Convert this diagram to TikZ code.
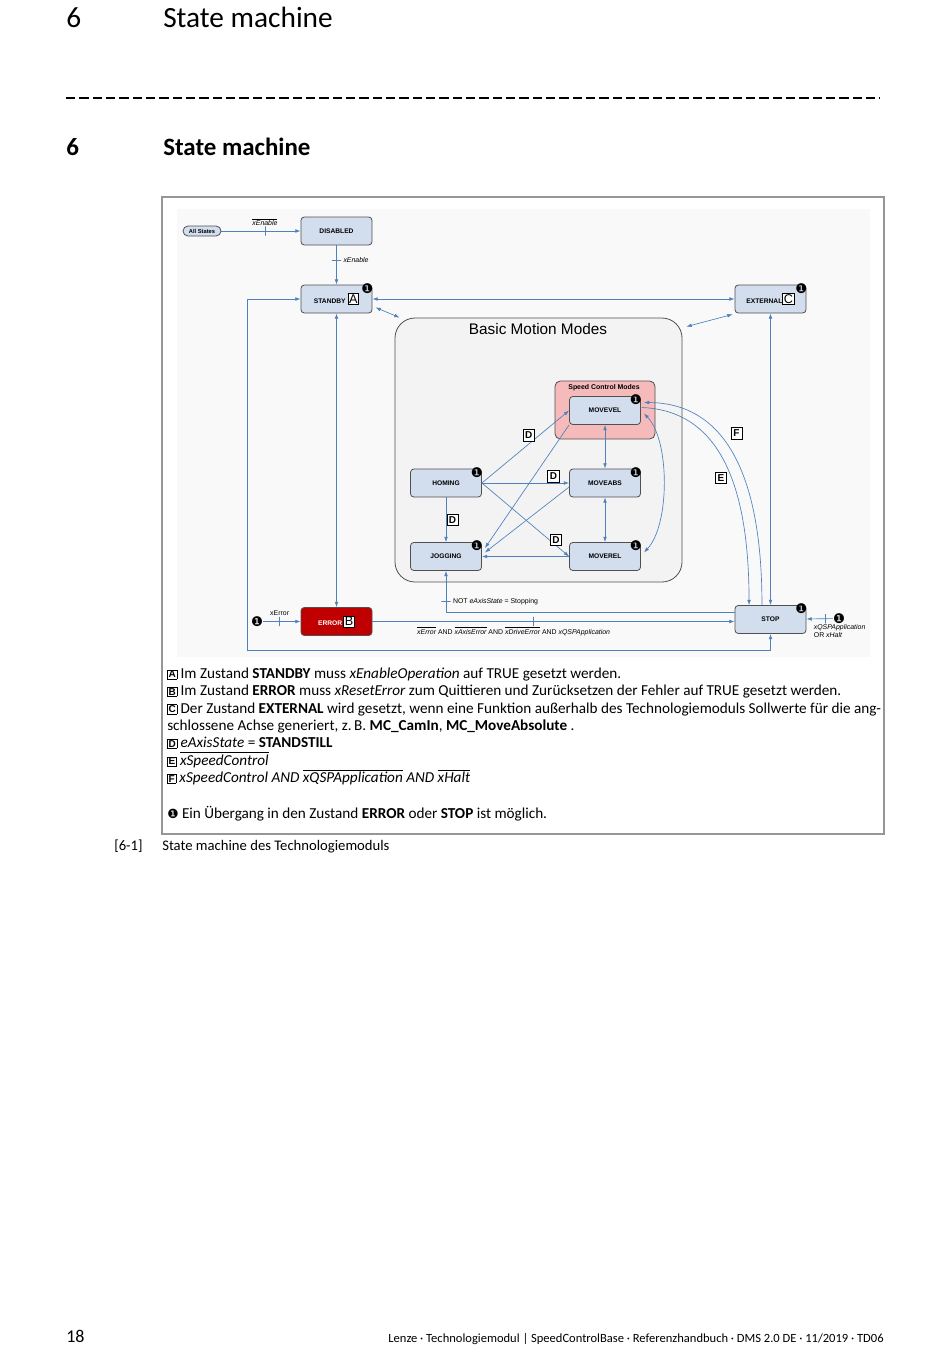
\documentclass[tikz,border=0pt]{standalone}
\usepackage{fontspec}
\setmainfont{Carlito}
\newfontfamily\diafont{Liberation Sans}
\newfontfamily\symfont{DejaVu Sans}
\usetikzlibrary{shapes.geometric, arrows, arrows.meta}

\definecolor{linec}{RGB}{79,129,189}
\definecolor{statefill}{RGB}{210,221,238}
\definecolor{stateedge}{RGB}{80,80,80}
\definecolor{pinkfill}{RGB}{247,186,186}
\definecolor{errfill}{RGB}{192,0,0}
\definecolor{groupfill}{RGB}{243,243,243}
\definecolor{diabg}{RGB}{249,249,250}
\definecolor{framec}{RGB}{150,150,150}

\newcommand{\ovl}[1]{\ensuremath{\overline{\mbox{#1}}}}
\newcommand{\lbox}[1]{{\setlength{\fboxsep}{0.6pt}\setlength{\fboxrule}{0.4pt}\raisebox{0.2pt}{\fbox{\diafont\fontsize{7.5}{8}\selectfont\bfseries #1}}}}
\newcommand{\keybox}[1]{{\setlength{\fboxsep}{0.7pt}\setlength{\fboxrule}{0.45pt}\fcolorbox{black}{white}{\textcolor{black}{\fontsize{9.5}{9.5}\selectfont\mdseries #1}}}}

\begin{document}
\begin{tikzpicture}
    [
        x=0.75pt, y=-0.75pt,
        >={Latex[length=4pt, width=2.8pt]},
        state/.style = {draw=stateedge, fill=statefill, rounded corners=2.5pt, minimum width=53.25pt, minimum height=21pt, inner sep=1pt, line width=0.6pt, font=\diafont\fontsize{5}{6}\selectfont\bfseries},
        group/.style = {draw=stateedge, fill=groupfill, rounded corners=15pt, line width=0.6pt},
        warn/.style = {inner sep=0pt, font=\symfont\fontsize{10}{10}\selectfont},
        conn/.style = {draw=linec, line width=0.5pt, ->},
        conn2/.style = {draw=linec, line width=0.5pt, <->},
        vtick/.style = {draw=linec, line width=0.5pt, minimum width=0pt, minimum height=7pt, inner sep=0pt},
        htick/.style = {draw=linec, line width=0.5pt, minimum width=7pt, minimum height=0pt, inner sep=0pt},
        cond/.style = {draw=black, fill=white, line width=0.4pt, inner sep=0pt, minimum size=8.5pt, font=\diafont\fontsize{7.5}{8}\selectfont\bfseries},
        lbl/.style = {inner sep=1pt, font=\diafont\fontsize{5.2}{6}\selectfont},
        doc/.style = {inner sep=0pt, anchor=base west, font=\fontsize{11.4}{13}\selectfont},
        head/.style = {inner sep=0pt, anchor=base west, font=\fontsize{22}{24}\selectfont},
    ]

    % page
    \fill[white] (0,0) rectangle (950,1370);
    \node[head] (h1num) at (66,28) {6};
    \node[head] (h1txt) at (163,28) {State machine};
    \draw[line width=1.1pt, dash pattern=on 7pt off 3pt] (66,98) -- (880,98);
    \node[head, font=\fontsize{18.7}{20}\selectfont\bfseries] (h2num) at (66,155) {6};
    \node[head, font=\fontsize{18.7}{20}\selectfont\bfseries] (h2txt) at (163,155) {State machine};

    \draw[framec, line width=0.8pt] (162,197) rectangle (884,834);
    \fill[diabg] (177,209) rectangle (870,657);

    % states
    \node[state, minimum width=28.5pt, minimum height=7.5pt, rounded corners=3.75pt, font=\diafont\fontsize{4.3}{5}\selectfont\bfseries] (allstates) at (202,231) {All States};
    \node[state] (disabled) at (336.5,231) {DISABLED};
    \node[state] (standby)  at (336.5,299) {STANDBY \keybox{A}};
    \node[state] (external) at (770.5,299) {EXTERNAL\keybox{C}};

    \node[group, minimum width=215.25pt, minimum height=198pt] (bmm) at (538.5,450) {};
    \node[font=\diafont\fontsize{11.5}{13}\selectfont] (bmmtitle) at (538,329) {Basic Motion Modes};
    \node[group, fill=pinkfill, rounded corners=4pt, minimum width=75pt, minimum height=43.5pt] (scm) at (605,410) {};
    \node[font=\diafont\fontsize{5.2}{6}\selectfont\bfseries] (scmtitle) at (604,388) {Speed Control Modes};

    \node[state] (movevel) at (605,410.5) {MOVEVEL};
    \node[state] (homing)  at (446,483)   {HOMING};
    \node[state] (moveabs) at (605,483)   {MOVEABS};
    \node[state] (jogging) at (446,556.5) {JOGGING};
    \node[state] (moverel) at (605,556.5) {MOVEREL};

    \node[state, fill=errfill, text=white] (error) at (336.5,621.5) {ERROR\,\keybox{B}};
    \node[state] (stop) at (770.5,619.5) {STOP};

    \foreach \s in {standby, external, movevel, homing, moveabs, jogging, moverel, stop}
        \node[warn] (\s w) at ([shift={(-5,4)}]\s.north east) {❶};
    \node[warn] (errsrc)  at (257,621.5) {❶};
    \node[warn] (stopsrc) at (839,618.5) {❶};
    \coordinate (loopcorner) at (247,650);

    % transitions
    \draw[conn] (allstates) -- (disabled) node[pos=0.55, vtick] (t1) {} node[pos=0.55, lbl, above=2.5pt] (l1) {\textit{\ovl{xEnable}}};
    \draw[conn] (disabled) -- (standby) node[pos=0.38, htick] (t2) {} node[pos=0.38, lbl, right=4pt] (l2) {\textit{xEnable}};
    \draw[conn2] (standby) -- (external);
    \draw[conn2] (standby) -- (error);
    \draw[conn2] (external) -- (stop);
    \draw[conn2] (standby.west) -| (loopcorner) -| (stop.south);
    \draw[conn2] ([shift={(3,-6)}]standby.south east) -- ([shift={(5,0)}]bmm.north west);
    \draw[conn2] ([shift={(4,9)}]bmm.north east) -- ([shift={(-2,1)}]external.south west);

    \draw[conn] (error) -- (error -| stop.west) node[pos=0.443, vtick] (t3) {} node[pos=0.39, lbl, below=2.5pt] (l3) {\textit{\ovl{xError}} AND \textit{\ovl{xAxisError}} AND \textit{\ovl{xDriveError}} AND \textit{xQSPApplication}};
    \draw[conn] ([yshift=5.6pt]stop.west) -| (jogging.south) node[pos=0.63, htick] (t4) {} node[pos=0.63, lbl, right=4pt] (l4) {NOT \textit{eAxisState} = Stopping};
    \draw[conn] (errsrc) -- (error) node[pos=0.44, vtick] (t5) {} node[pos=0.44, lbl, above=3pt] (l5) {xError};
    \draw[conn] (stopsrc) -- (stop) node[pos=0.3, vtick] (t6) {} node[pos=0.78, lbl, anchor=north west, align=left, yshift=-3pt] (l6) {\textit{xQSPApplication}\\OR \textit{xHalt}};

    \draw[conn2] (movevel) -- (moveabs);
    \draw[conn2] (moveabs) -- (moverel);
    \draw[conn] (homing) -- (jogging) node[midway, cond, right=0.5pt] (d1) {D};
    \draw[conn] (moverel) -- (jogging);
    \draw[conn] (homing.east) -- (movevel.west) node[pos=0.5, cond, xshift=2.5pt, yshift=8.5pt] (d2) {D};
    \draw[conn] (homing.east) -- (moveabs.west) node[pos=0.82, cond, above=0.5pt] (d3) {D};
    \draw[conn] (homing.east) -- (moverel.west) node[pos=0.82, cond, xshift=2pt, yshift=2.5pt] (d4) {D};
    \draw[conn] (movevel.south west) -- ([shift={(3,6)}]jogging.north east);
    \draw[conn] ([shift={(0,4)}]moveabs.west) -- ([shift={(3,-4)}]jogging.east);
    \draw[conn2] ([shift={(3,3)}]movevel.east) .. controls (670,440) and (670,525) .. ([shift={(3,-4)}]moverel.east);

    \draw[conn] ([shift={(1,-3)}]movevel.east) .. controls (705,410) and (749,460) .. ([xshift=-16.1pt]stop.north) node[pos=0.6, cond, xshift=-6.4pt, yshift=-3.3pt] (e1) {E};
    \draw[conn] ([xshift=-6.4pt]stop.north) .. controls (762,480) and (728,403) .. ([shift={(3,-8)}]movevel.east) node[pos=0.6, cond, xshift=11pt, yshift=3.5pt] (f1) {F};

    % legend
    \node[doc] (leg1) at (167,678) {\lbox{A} Im Zustand \textbf{STANDBY} muss \textit{xEnableOperation} auf TRUE gesetzt werden.};
    \node[doc] (leg2) at (167,695.5) {\lbox{B} Im Zustand \textbf{ERROR} muss \textit{xResetError} zum Quittieren und Zurücksetzen der Fehler auf TRUE gesetzt werden.};
    \node[doc] (leg3) at (167,713) {\lbox{C} Der Zustand \textbf{EXTERNAL} wird gesetzt, wenn eine Funktion außerhalb des Technologiemoduls Sollwerte für die ang-};
    \node[doc] (leg4) at (167,730) {schlossene Achse generiert, z.\,B. \textbf{MC\_CamIn}, \textbf{MC\_MoveAbsolute} .};
    \node[doc] (leg5) at (167,747.5) {\lbox{D} \textit{eAxisState} = \textbf{STANDSTILL}};
    \node[doc] (leg6) at (167,765) {\lbox{E} \textit{\ovl{xSpeedControl}}};
    \node[doc] (leg7) at (167,782.5) {\lbox{F} \textit{xSpeedControl AND \ovl{xQSPApplication} AND \ovl{xHalt}}};
    \node[doc] (leg8) at (167,818) {{\symfont\fontsize{9.5}{9}\selectfont ❶} Ein Übergang in den Zustand \textbf{ERROR} oder \textbf{STOP} ist möglich.};

    % caption and footer
    \node[doc, font=\fontsize{11}{13}\selectfont] (capnum) at (114,850) {[6-1]};
    \node[doc, font=\fontsize{11}{13}\selectfont] (captxt) at (162,850) {State machine des Technologiemoduls};
    \node[head, font=\fontsize{13.5}{14}\selectfont] (pagenum) at (66,1342) {18};
    \node[inner sep=0pt, anchor=base east, font=\fontsize{9.4}{10}\selectfont] (footer) at (884,1342) {Lenze · Technologiemodul | SpeedControlBase · Referenzhandbuch · DMS 2.0 DE · 11/2019 · TD06};
\end{tikzpicture}
\end{document}
